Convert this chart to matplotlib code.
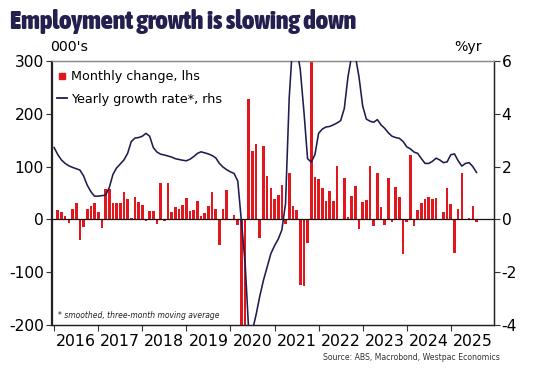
import numpy as np
import pandas as pd
import matplotlib
matplotlib.use("Agg")
import matplotlib.pyplot as plt
from matplotlib.lines import Line2D
from matplotlib import font_manager as fm

plt.rcParams['axes.unicode_minus'] = False
plt.rcParams['font.family'] = 'DejaVu Sans'

# ---------------- data ----------------
bar_start = '2016-02-01'
monthly_change = [
    # 2016 Feb-Dec
    17, 14, 6, -6, 20, 32, -39, -14, 19, 25, 32,
    # 2017
    14, -16, 57, 57, 32, 32, 32, 52, 38, 3, 42, 33,
    # 2018
    28, -3, 16, 16, -8, 68, -3, 68, 14, 23, 19, 28,
    # 2019
    40, 15, 18, 35, 6, 13, 26, 52, 19, -48, 19, 55,
    # 2020
    1, 8, -11, -600, -230, 228, 129, 142, -35, 139, 82, 60,
    # 2021
    39, 46, 66, -8, 88, 26, 17, -124, -127, -44, 366, 80,
    # 2022
    76, 60, 35, 53, 35, 102, 0, 79, 5, 44, 63, -18,
    # 2023
    33, 37, 102, -13, 87, 23, -11, 78, -5, 61, 43, -65,
    # 2024
    -5, 122, -13, 18, 31, 39, 43, 38, 40, 0, 14, 60,
    # 2025 Jan-Aug
    30, -63, 19, 88, -2, 2, 26, -5,
]

line_start = '2016-01-01'
yearly_growth = [
    # 2016
    2.72, 2.45, 2.25, 2.12, 2.03, 1.97, 1.92, 1.87, 1.65, 1.30, 1.05, 0.88,
    # 2017
    0.88, 0.90, 0.92, 1.20, 1.70, 1.95, 2.10, 2.25, 2.50, 2.95, 3.08, 3.10,
    # 2018
    3.15, 3.26, 3.15, 2.72, 2.55, 2.47, 2.44, 2.40, 2.36, 2.30, 2.27, 2.24,
    # 2019
    2.22, 2.28, 2.38, 2.50, 2.56, 2.52, 2.48, 2.42, 2.33, 2.12, 1.98, 1.88,
    # 2020
    1.80, 1.74, 1.45, -0.10, -1.65, -4.30, -4.20, -3.60, -2.90, -2.30, -1.80, -1.30,
    # 2021
    -1.00, -0.75, -0.40, 0.60, 4.60, 6.80, 6.50, 5.70, 4.10, 2.30, 2.17, 2.45,
    # 2022
    3.26, 3.42, 3.50, 3.52, 3.58, 3.65, 3.74, 4.20, 5.40, 6.20, 6.20, 5.40,
    # 2023
    4.30, 3.80, 3.72, 3.68, 3.78, 3.58, 3.45, 3.28, 3.15, 3.10, 3.07, 2.95,
    # 2024
    2.75, 2.67, 2.55, 2.50, 2.30, 2.12, 2.12, 2.20, 2.32, 2.25, 2.15, 2.18,
    # 2025 Jan-Aug
    2.45, 2.48, 2.22, 2.02, 2.12, 2.15, 2.00, 1.78,
]

years = list(range(2016, 2026))
left_ticks = [-200, -100, 0, 100, 200, 300]
right_ticks = [-4, -2, 0, 2, 4, 6]

RED = '#E2161D'
NAVY = '#1F1C4F'
TITLE_C = '#23204F'


def dec_year(idx):
    return idx.year + (idx.month - 1) / 12.0


bar_dates = pd.date_range(bar_start, periods=len(monthly_change), freq='MS')
line_dates = pd.date_range(line_start, periods=len(yearly_growth), freq='MS')
xb = dec_year(bar_dates)
xl = dec_year(line_dates)

W, H = 538, 386
fig = plt.figure(figsize=(W / 100, H / 100), dpi=100)
ax = fig.add_axes([51.5 / W, 61 / H, 442.5 / W, 264 / H])

ax.bar(xb, monthly_change, width=0.06, color=RED, linewidth=0, zorder=2)
ax.axhline(0, color='#111111', lw=0.9, zorder=3)
ax.set_ylim(-200, 300)
ax.set_xlim(2015.94, 2025.98)
ax.set_yticks(left_ticks)
ax.set_yticklabels([str(v) for v in left_ticks])

ax.set_xticks(years)
ax.set_xticklabels([])
ax.set_xticks([y + 0.5 for y in years], minor=True)
ax.set_xticklabels([str(y) for y in years], minor=True, fontsize=11.3)
ax.tick_params(axis='x', which='major', direction='out', length=4, width=0.8, color='#333333')
ax.tick_params(axis='x', which='minor', length=0, pad=6.5)
ax.tick_params(axis='y', direction='out', length=4, width=0.8, labelsize=11.2, pad=1.5, color='#333333')

ax2 = ax.twinx()
ax2.plot(xl, yearly_growth, color=NAVY, lw=1.15, zorder=4, solid_joinstyle='round')
ax2.set_ylim(-4, 6)
ax2.set_yticks(right_ticks)
ax2.set_yticklabels([str(v) for v in right_ticks])
ax2.tick_params(axis='y', direction='out', length=4, width=0.8, labelsize=11.2, pad=1.5, color='#333333')

for a in (ax, ax2):
    for s in ('left', 'right', 'bottom'):
        a.spines[s].set_color('#222222')
        a.spines[s].set_linewidth(0.9)
    a.spines['top'].set_color('#8a8a8a')
    a.spines['top'].set_linewidth(0.9)

handles = [
    Line2D([], [], marker='s', color=RED, linestyle='none', markersize=5),
    Line2D([], [], color=NAVY, lw=1.3),
]
labels = ['Monthly change, lhs', 'Yearly growth rate*, rhs']
ax2.legend(handles, labels, loc='upper left', bbox_to_anchor=(0.0, 0.985),
           frameon=False, fontsize=9.2, handlelength=0.8, handletextpad=0.3,
           labelspacing=0.75, borderaxespad=0.2, borderpad=0.2)

fig.text(50 / W, 1 - 47 / H, "000's", fontsize=10.2, va='center', ha='left')
fig.text(482 / W, 1 - 47 / H, "%yr", fontsize=10.2, va='center', ha='right')
fig.text(58 / W, 1 - 316 / H, "* smoothed, three-month moving average",
         fontsize=5.5, style='italic', va='center', ha='left', color='#222222')
fig.text(500 / W, 1 - 357 / H, "Source: ABS, Macrobond, Westpac Economics",
         fontsize=5.6, va='center', ha='right', color='#333333')


# ---- title in a heavy condensed face if available ----
def pick_title_font():
    best = None
    for f in fm.fontManager.ttflist:
        fn = f.fname.lower()
        st = str(f.stretch).lower()
        cond = ('condensed' in fn or 'narrow' in fn or 'condensed' in st)
        if not cond or f.style != 'normal':
            continue
        w = f.weight if isinstance(f.weight, int) else fm.weight_dict.get(f.weight, 400)
        if 'semicondensed' in fn or 'semi' in st:
            w -= 50
        if best is None or w > best[0]:
            best = (w, f.fname)
    return best


bf = pick_title_font()
if bf is not None and bf[0] >= 600:
    tprops = fm.FontProperties(fname=bf[1], size=20)
else:
    tprops = fm.FontProperties(family='DejaVu Sans', weight='bold', size=20)

title = fig.text(10 / W, 1 - 29 / H, "Employment growth is slowing down",
                 fontproperties=tprops, color=TITLE_C, va='baseline', ha='left')
fig.canvas.draw()
bb = title.get_window_extent()
target = 346.0
title.set_fontsize(20 * target / bb.width)

fig.savefig('out.png', dpi=100)
